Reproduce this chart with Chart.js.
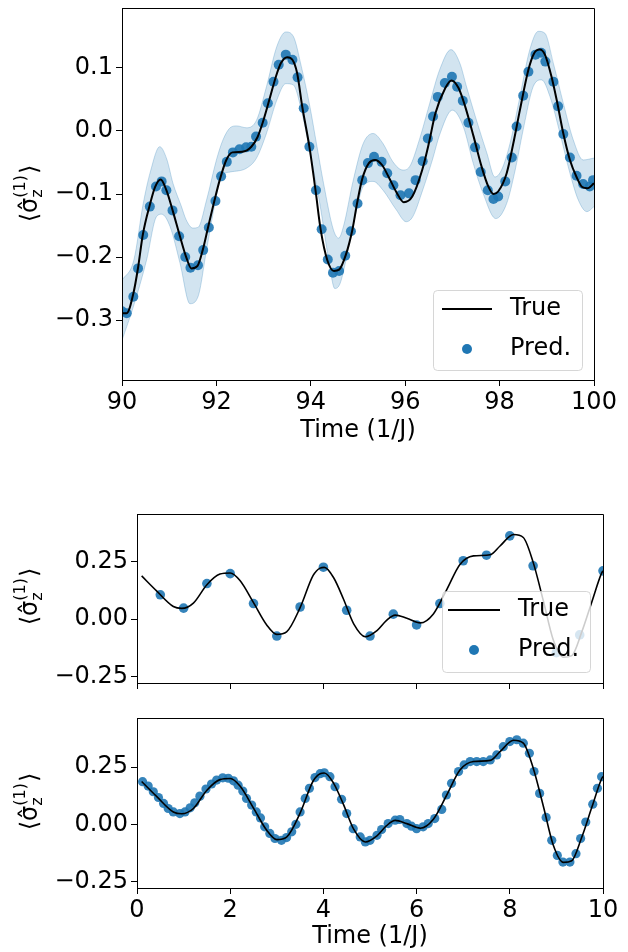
<!DOCTYPE html>
<html>
<head>
<meta charset="utf-8">
<script src="https://cdn.jsdelivr.net/npm/chart.js@4.4.1/dist/chart.umd.min.js"></script>
<style>
  body { margin: 0; background: #fff; }
  #wrap { position: relative; width: 628px; height: 952px; }
  canvas { position: absolute; left: 0; }
</style>
</head>
<body>
<div id="wrap">
  <canvas id="top" width="628" height="450" style="top:0"></canvas>
  <canvas id="mid" width="628" height="205" style="top:490px"></canvas>
  <canvas id="bot" width="628" height="252" style="top:700px"></canvas>
</div>
<script>
// ---- top panel: t = 90..100 ----
const trueT1 = [90.0, 90.1, 90.24, 90.34, 90.44, 90.59, 90.7, 90.82, 90.94, 91.08, 91.22, 91.36, 91.47, 91.6, 91.71, 91.82, 91.96, 92.07, 92.21, 92.34, 92.55, 92.74, 92.87, 92.98, 93.12, 93.26, 93.37, 93.5, 93.61, 93.71, 93.82, 93.97, 94.1, 94.21, 94.35, 94.49, 94.6, 94.74, 94.88, 94.98, 95.09, 95.23, 95.36, 95.51, 95.65, 95.82, 95.97, 96.15, 96.36, 96.5, 96.64, 96.85, 96.98, 97.13, 97.27, 97.45, 97.62, 97.76, 97.87, 97.97, 98.15, 98.29, 98.43, 98.61, 98.73, 98.85, 98.96, 99.1, 99.21, 99.35, 99.49, 99.63, 99.75, 99.86, 100.0];
const trueV1 = [-0.289, -0.289, -0.258, -0.217, -0.165, -0.117, -0.089, -0.077, -0.094, -0.128, -0.165, -0.2, -0.218, -0.214, -0.189, -0.154, -0.11, -0.078, -0.046, -0.034, -0.033, -0.025, -0.01, 0.013, 0.049, 0.086, 0.108, 0.117, 0.113, 0.092, 0.038, -0.025, -0.094, -0.157, -0.205, -0.222, -0.22, -0.197, -0.157, -0.115, -0.076, -0.051, -0.046, -0.054, -0.073, -0.098, -0.113, -0.104, -0.062, -0.02, 0.028, 0.068, 0.08, 0.068, 0.039, -0.009, -0.057, -0.088, -0.1, -0.096, -0.067, -0.02, 0.033, 0.097, 0.123, 0.129, 0.121, 0.086, 0.049, -0.004, -0.046, -0.073, -0.089, -0.091, -0.083];

const predT1 = [90.0, 90.1, 90.24, 90.34, 90.45, 90.59, 90.72, 90.84, 90.94, 91.07, 91.21, 91.34, 91.45, 91.61, 91.72, 91.84, 91.98, 92.1, 92.22, 92.35, 92.49, 92.63, 92.74, 92.84, 92.98, 93.09, 93.21, 93.32, 93.47, 93.61, 93.72, 93.85, 93.97, 94.11, 94.23, 94.36, 94.47, 94.6, 94.73, 94.85, 94.99, 95.09, 95.21, 95.34, 95.5, 95.62, 95.75, 95.9, 96.08, 96.22, 96.37, 96.48, 96.59, 96.69, 96.84, 96.99, 97.1, 97.22, 97.34, 97.48, 97.6, 97.75, 97.87, 97.97, 98.12, 98.26, 98.36, 98.5, 98.61, 98.76, 98.88, 98.97, 99.14, 99.24, 99.35, 99.49, 99.63, 99.77, 99.91, 99.98];
const predV1 = [-0.286, -0.289, -0.263, -0.218, -0.165, -0.12, -0.088, -0.08, -0.094, -0.126, -0.167, -0.2, -0.217, -0.213, -0.189, -0.153, -0.111, -0.072, -0.049, -0.034, -0.029, -0.026, -0.025, -0.009, 0.013, 0.044, 0.078, 0.105, 0.121, 0.113, 0.085, 0.036, -0.025, -0.094, -0.156, -0.204, -0.225, -0.222, -0.198, -0.159, -0.115, -0.078, -0.051, -0.041, -0.049, -0.067, -0.086, -0.102, -0.099, -0.078, -0.048, -0.012, 0.023, 0.054, 0.076, 0.086, 0.07, 0.048, 0.013, -0.026, -0.065, -0.094, -0.108, -0.104, -0.08, -0.042, 0.007, 0.056, 0.094, 0.121, 0.124, 0.11, 0.078, 0.039, -0.005, -0.042, -0.071, -0.084, -0.088, -0.078];

const bandUpT = [90.0, 90.25, 90.45, 90.6, 90.8, 90.95, 91.08, 91.25, 91.36, 91.5, 91.61, 91.79, 92.0, 92.14, 92.29, 92.43, 92.64, 92.85, 93.06, 93.28, 93.47, 93.63, 93.8, 93.98, 94.12, 94.27, 94.48, 94.59, 94.69, 94.9, 95.11, 95.32, 95.53, 95.74, 95.95, 96.09, 96.3, 96.52, 96.73, 96.97, 97.16, 97.3, 97.51, 97.73, 97.9, 98.04, 98.22, 98.43, 98.64, 98.82, 98.96, 99.14, 99.35, 99.56, 99.77, 100.0];
const bandUpV = [-0.237, -0.205, -0.115, -0.065, -0.025, -0.045, -0.083, -0.118, -0.141, -0.154, -0.153, -0.11, -0.046, -0.014, 0.005, 0.008, 0.005, 0.017, 0.07, 0.134, 0.157, 0.15, 0.102, 0.039, -0.02, -0.083, -0.157, -0.17, -0.152, -0.078, -0.02, -0.004, -0.02, -0.049, -0.062, -0.057, -0.014, 0.044, 0.097, 0.129, 0.107, 0.07, 0.017, -0.035, -0.073, -0.062, -0.02, 0.054, 0.129, 0.158, 0.155, 0.107, 0.044, -0.014, -0.046, -0.043];
const bandLoT = [90.0, 90.24, 90.52, 90.73, 90.84, 91.02, 91.23, 91.44, 91.61, 91.79, 91.97, 92.11, 92.3, 92.64, 92.85, 93.06, 93.28, 93.47, 93.63, 93.8, 93.98, 94.19, 94.37, 94.51, 94.62, 94.76, 94.97, 95.11, 95.32, 95.53, 95.81, 96.02, 96.16, 96.37, 96.58, 96.73, 97.0, 97.23, 97.44, 97.65, 97.92, 98.15, 98.33, 98.5, 98.71, 98.89, 99.07, 99.28, 99.49, 99.67, 99.85, 100.0];
const bandLoV = [-0.332, -0.279, -0.205, -0.136, -0.132, -0.152, -0.21, -0.274, -0.263, -0.189, -0.115, -0.072, -0.065, -0.059, -0.043, -0.004, 0.049, 0.075, 0.073, 0.033, -0.033, -0.115, -0.2, -0.25, -0.242, -0.2, -0.125, -0.088, -0.08, -0.094, -0.125, -0.144, -0.136, -0.094, -0.045, -0.006, 0.033, 0.007, -0.051, -0.099, -0.139, -0.115, -0.062, 0.002, 0.07, 0.081, 0.054, -0.004, -0.067, -0.11, -0.128, -0.12];

const xTicks1 = [90, 92, 94, 96, 98, 100];
const yTicks1 = [-0.3, -0.2, -0.1, 0.0, 0.1];

// ---- middle / bottom panels: t = 0..10 ----
const trueT2 = [0.1, 0.42, 0.78, 0.96, 1.21, 1.5, 1.78, 2.0, 2.21, 2.5, 2.78, 3.0, 3.21, 3.5, 3.78, 3.93, 4.02, 4.22, 4.43, 4.65, 4.9, 5.15, 5.35, 5.54, 5.79, 6.08, 6.36, 6.65, 6.93, 7.22, 7.58, 7.79, 8.08, 8.29, 8.5, 8.72, 8.93, 9.15, 9.33, 9.54, 9.76, 9.97, 10.0];
const trueV2 = [0.188, 0.123, 0.055, 0.047, 0.07, 0.15, 0.196, 0.201, 0.168, 0.072, -0.024, -0.066, -0.055, 0.05, 0.19, 0.222, 0.225, 0.18, 0.088, -0.02, -0.076, -0.049, -0.006, 0.018, 0.004, -0.016, 0.023, 0.13, 0.238, 0.275, 0.28, 0.318, 0.368, 0.355, 0.248, 0.08, -0.088, -0.165, -0.158, -0.058, 0.075, 0.2, 0.21];

const predT2 = [0.5, 1.0, 1.5, 2.0, 2.5, 3.0, 3.5, 4.0, 4.5, 5.0, 5.5, 6.0, 6.5, 7.0, 7.5, 8.0, 8.5, 9.0, 9.5, 10.0];
const predV2 = [0.106, 0.048, 0.155, 0.198, 0.068, -0.073, 0.053, 0.226, 0.039, -0.073, 0.022, -0.025, 0.068, 0.254, 0.278, 0.362, 0.232, -0.145, -0.068, 0.21];

const predT3 = [0.12, 0.24, 0.35, 0.46, 0.57, 0.67, 0.78, 0.92, 1.03, 1.14, 1.24, 1.35, 1.48, 1.6, 1.71, 1.84, 1.96, 2.07, 2.17, 2.27, 2.35, 2.46, 2.56, 2.65, 2.74, 2.85, 2.96, 3.1, 3.21, 3.32, 3.41, 3.5, 3.61, 3.7, 3.82, 3.93, 4.02, 4.14, 4.25, 4.39, 4.5, 4.64, 4.79, 4.9, 5.0, 5.15, 5.25, 5.39, 5.54, 5.64, 5.79, 5.89, 6.0, 6.14, 6.25, 6.39, 6.54, 6.64, 6.75, 6.9, 7.02, 7.15, 7.29, 7.43, 7.58, 7.72, 7.86, 8.0, 8.15, 8.29, 8.42, 8.52, 8.64, 8.78, 8.9, 9.02, 9.14, 9.29, 9.42, 9.52, 9.63, 9.78, 9.88, 9.97];
const predV3 = [0.187, 0.168, 0.143, 0.118, 0.092, 0.07, 0.055, 0.048, 0.055, 0.073, 0.095, 0.124, 0.155, 0.177, 0.194, 0.204, 0.202, 0.191, 0.172, 0.146, 0.114, 0.085, 0.055, 0.029, -0.01, -0.039, -0.061, -0.069, -0.057, -0.032, 0.001, 0.055, 0.114, 0.158, 0.205, 0.222, 0.226, 0.209, 0.165, 0.11, 0.048, -0.018, -0.054, -0.076, -0.069, -0.047, -0.022, 0.004, 0.019, 0.022, 0.004, -0.007, -0.018, -0.01, 0.004, 0.026, 0.066, 0.129, 0.18, 0.231, 0.26, 0.275, 0.275, 0.275, 0.282, 0.304, 0.34, 0.362, 0.37, 0.355, 0.311, 0.231, 0.136, 0.031, -0.069, -0.135, -0.164, -0.164, -0.127, -0.061, 0.011, 0.089, 0.158, 0.209];

const xTicks2 = [0, 2, 4, 6, 8, 10];
const yTicks2 = [-0.25, 0.0, 0.25];

const FONT = 'DejaVu Sans';
const BLUE = '#1f77b4';

const pts = (xs, ys) => xs.map((x, i) => ({ x: x, y: ys[i] }));
const minus = (s) => s.replace('-', '\u2212');

// box round the plot, like matplotlib spines
const framePlugin = {
  id: 'frame',
  afterDatasetsDraw(chart) {
    const { ctx, chartArea: a } = chart;
    const l = Math.round(a.left) + 0.5, t = Math.round(a.top) + 0.5;
    const r = Math.round(a.right) + 0.5, b = Math.round(a.bottom) + 0.5;
    ctx.save();
    ctx.strokeStyle = '#000';
    ctx.lineWidth = 1;
    ctx.beginPath();
    ctx.moveTo(l, b);
    ctx.lineTo(l, t);
    ctx.lineTo(r, t);
    ctx.lineTo(r, b);
    ctx.stroke();
    ctx.restore();
  }
};

// matplotlib-style legend box
const boxLegend = {
  id: 'boxLegend',
  afterDraw(chart, args, o) {
    if (!o.box) return;
    const ctx = chart.ctx;
    const b = o.box;
    ctx.save();
    ctx.beginPath();
    ctx.roundRect(b.x + 0.5, b.y + 0.5, b.w, b.h, 4);
    ctx.fillStyle = 'rgba(255,255,255,0.8)';
    ctx.fill();
    ctx.strokeStyle = 'rgba(204,204,204,0.8)';
    ctx.lineWidth = 1;
    ctx.stroke();

    const lineSet = chart.data.datasets[0];
    const dotSet = chart.data.datasets[1];
    ctx.strokeStyle = '#000';
    ctx.lineWidth = 2;
    ctx.beginPath();
    ctx.moveTo(b.x + o.lineX0, b.y + o.row1);
    ctx.lineTo(b.x + o.lineX1, b.y + o.row1);
    ctx.stroke();

    ctx.fillStyle = BLUE;
    ctx.beginPath();
    ctx.arc(b.x + (o.lineX0 + o.lineX1) / 2, b.y + o.row2, 5, 0, Math.PI * 2);
    ctx.fill();

    ctx.fillStyle = '#000';
    ctx.font = o.size + 'px "' + FONT + '"';
    ctx.textBaseline = 'middle';
    ctx.fillText(lineSet.label, b.x + o.textX, b.y + o.row1);
    ctx.fillText(dotSet.label, b.x + o.textX, b.y + o.row2);
    ctx.restore();
  }
};

// rotated <sigma_z^(1)> label
const yTitle = {
  id: 'yTitle',
  afterDraw(chart, args, o) {
    const ctx = chart.ctx;
    const big = '24px "' + FONT + '"';
    const small = '16px "' + FONT + '"';
    ctx.save();
    ctx.translate(o.x, o.y);
    ctx.rotate(-Math.PI / 2);
    ctx.fillStyle = '#000';
    ctx.textBaseline = 'alphabetic';
    ctx.font = big;
    const w1 = ctx.measureText('\u27E8\u03C3\u0302').width;
    const w4 = ctx.measureText('\u27E9').width;
    ctx.font = small;
    const ws = Math.max(ctx.measureText('z').width, ctx.measureText('(1)').width);
    let x = -(w1 + ws + w4) / 2;
    const base = 7;
    ctx.font = big;
    ctx.fillText('\u27E8\u03C3\u0302', x, base);
    x += w1;
    ctx.font = small;
    ctx.fillText('z', x, base + 5);
    ctx.fillText('(1)', x, base - 12);
    x += ws + 1;
    ctx.font = big;
    ctx.fillText('\u27E9', x, base);
    ctx.restore();
  }
};

function makePanel(id, cfg) {
  const datasets = [
    {
      label: 'True',
      data: pts(cfg.trueT, cfg.trueV),
      borderColor: '#000',
      borderWidth: cfg.lineWidth,
      pointRadius: 0,
      cubicInterpolationMode: 'monotone',
      fill: false,
      order: 0
    },
    {
      label: 'Pred.',
      data: pts(cfg.predT, cfg.predV),
      showLine: false,
      pointRadius: cfg.dotRadius,
      pointBorderWidth: 0,
      pointBackgroundColor: 'rgba(31,119,180,0.9)',
      order: 1
    }
  ];
  if (cfg.band) {
    datasets.push({
      label: 'band-up',
      data: pts(cfg.band[0], cfg.band[1]),
      borderColor: 'rgba(31,119,180,0.25)',
      borderWidth: 1,
      backgroundColor: 'rgba(31,119,180,0.2)',
      pointRadius: 0,
      cubicInterpolationMode: 'monotone',
      fill: '+1',
      order: 2
    });
    datasets.push({
      label: 'band-lo',
      data: pts(cfg.band[2], cfg.band[3]),
      borderColor: 'rgba(31,119,180,0.25)',
      borderWidth: 1,
      pointRadius: 0,
      cubicInterpolationMode: 'monotone',
      fill: false,
      order: 3
    });
  }

  const tickFont = { family: FONT, size: 24 };
  return new Chart(document.getElementById(id), {
    type: 'line',
    data: { datasets: datasets },
    plugins: [framePlugin, boxLegend, yTitle],
    options: {
      responsive: false,
      animation: false,
      devicePixelRatio: 1,
      layout: { padding: { top: cfg.padTop, right: cfg.padRight, left: 0, bottom: 0 } },
      scales: {
        x: {
          type: 'linear',
          min: cfg.xMin,
          max: cfg.xMax,
          afterBuildTicks: (s) => { s.ticks = cfg.xTicks.map((v) => ({ value: v })); },
          afterFit: (s) => { s.height = cfg.xAxisH; s.paddingLeft = 0; s.paddingRight = 0; },
          ticks: {
            color: '#000',
            font: tickFont,
            padding: 2,
            maxRotation: 0,
            autoSkip: false,
            callback: (v) => (cfg.xLabels ? String(v) : '')
          },
          grid: { drawOnChartArea: false, drawTicks: true, tickLength: 6, color: '#000' },
          border: { display: true, color: '#000' },
          title: {
            display: cfg.xLabels,
            text: 'Time (1/J)',
            color: '#000',
            font: tickFont,
            padding: { top: 0, bottom: cfg.titlePad }
          }
        },
        y: {
          type: 'linear',
          min: cfg.yMin,
          max: cfg.yMax,
          afterBuildTicks: (s) => { s.ticks = cfg.yTicks.map((v) => ({ value: v })); },
          afterFit: (s) => { s.width = cfg.yAxisW; s.paddingTop = 0; s.paddingBottom = 0; },
          ticks: {
            color: '#000',
            font: tickFont,
            padding: 3,
            autoSkip: false,
            callback: (v) => minus(v.toFixed(cfg.yDigits))
          },
          grid: { drawOnChartArea: false, drawTicks: true, tickLength: 6, color: '#000' },
          border: { display: true, color: '#000' }
        }
      },
      plugins: {
        legend: { display: false },
        tooltip: { enabled: false },
        boxLegend: cfg.legend || {},
        yTitle: cfg.yTitle
      }
    }
  });
}

makePanel('top', {
  trueT: trueT1, trueV: trueV1, predT: predT1, predV: predV1,
  band: [bandUpT, bandUpV, bandLoT, bandLoV],
  lineWidth: 2, dotRadius: 5,
  xMin: 90, xMax: 100, xTicks: xTicks1, xLabels: true,
  yMin: -0.395, yMax: 0.195, yTicks: yTicks1, yDigits: 1,
  padTop: 8, padRight: 34, xAxisH: 70, yAxisW: 122, titlePad: 5,
  legend: { box: { x: 433, y: 290, w: 149, h: 80 }, lineX0: 9, lineX1: 59, row1: 19, row2: 59, textX: 77, size: 24 },
  yTitle: { x: 30, y: 194 }
});

makePanel('mid', {
  trueT: trueT2, trueV: trueV2, predT: predT2, predV: predV2,
  lineWidth: 1.6, dotRadius: 4.8,
  xMin: 0, xMax: 10, xTicks: xTicks2, xLabels: false,
  yMin: -0.277, yMax: 0.457, yTicks: yTicks2, yDigits: 2,
  padTop: 24, padRight: 25, xAxisH: 12, yAxisW: 137, titlePad: 0,
  legend: { box: { x: 442, y: 101, w: 148, h: 81 }, lineX0: 6, lineX1: 58, row1: 19, row2: 59, textX: 76, size: 24 },
  yTitle: { x: 30, y: 107 }
});

makePanel('bot', {
  trueT: trueT2, trueV: trueV2, predT: predT3, predV: predV3,
  lineWidth: 1.6, dotRadius: 4.6,
  xMin: 0, xMax: 10, xTicks: xTicks2, xLabels: true,
  yMin: -0.277, yMax: 0.465, yTicks: yTicks2, yDigits: 2,
  padTop: 18, padRight: 25, xAxisH: 64, yAxisW: 137, titlePad: 1,
  yTitle: { x: 30, y: 102 }
});
</script>
</body>
</html>
